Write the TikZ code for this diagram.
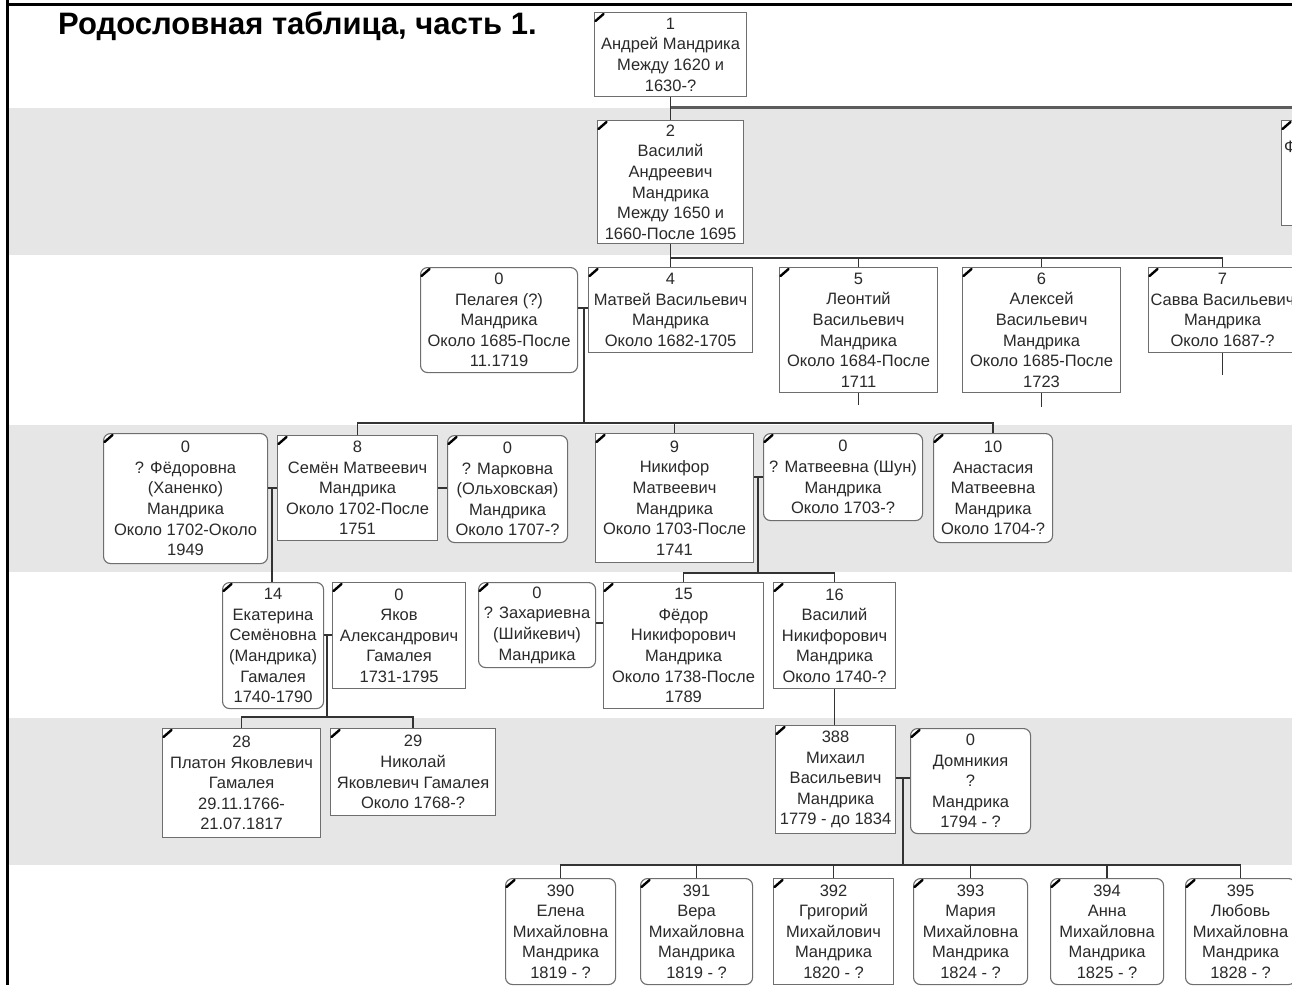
\documentclass[tikz,border=0pt]{standalone}
\usepackage{fontspec}
\setmainfont{Liberation Sans}
\definecolor{band}{HTML}{E6E6E6}
\definecolor{boxgray}{HTML}{6E6E6E}
\definecolor{txt}{HTML}{2A2A2A}
\definecolor{lin}{HTML}{333333}
\begin{document}
\begin{tikzpicture}[x=1pt,y=-1pt,
  sq/.style={draw=boxgray, line width=1.1pt, fill=white, anchor=north west, align=center,
             inner sep=0pt, font=\fontsize{16.5}{20.6}\selectfont, text=txt},
  rd/.style={sq, rounded corners=7pt},
  sz/.style n args={2}{minimum width=#1pt, minimum height=#2pt},
  conn/.style={draw=lin, line width=1.8pt},
  topline/.style={draw=lin!80, line width=3pt},
  pencilst/.style={draw=black, line width=2.4pt, line cap=round}]
\useasboundingbox (0,0) rectangle (1292,985);
\fill[white] (0,0) rectangle (1292,985);
\begin{scope}
\clip (0,0) rectangle (1292,985);
% bands
\fill[band] (8,108) rectangle (1292,255);
\fill[band] (8,425) rectangle (1292,572);
\fill[band] (8,718) rectangle (1292,865);
% frame
\draw[black, line width=3pt] (7,0) -- (7,985);
\draw[black, line width=3pt] (6,4.5) -- (1292,4.5);

% title
\node[anchor=base west, inner sep=0pt, font=\fontsize{31}{36}\selectfont\bfseries, text=black] (title) at (58,34) {Родословная таблица, часть 1.};

% row 1-2
\node[sq, sz={152}{84}] (n1) at (594,12) {1\\Андрей Мандрика\\Между 1620 и\\1630-?};
\node[sq, sz={146}{123}] (n2) at (597,120) {2\\Василий\\Андреевич\\Мандрика\\Между 1650 и\\1660-После 1695};
\node[sq, sz={150}{105}, text width=145pt, align=left, inner xsep=2pt] (nF) at (1281,120) {\mbox{}\\Ф\\\mbox{}\\\mbox{}\\\mbox{}};

% row 3
\node[rd, sz={157}{105}] (n0a) at (420,267) {0\\Пелагея (?)\\Мандрика\\Около 1685-После\\11.1719};
\node[sq, sz={164}{85}] (n4) at (588,267) {4\\Матвей Васильевич\\Мандрика\\Около 1682-1705};
\node[sq, sz={158}{125}] (n5) at (779,267) {5\\Леонтий\\Васильевич\\Мандрика\\Около 1684-После\\1711};
\node[sq, sz={158}{125}] (n6) at (962,267) {6\\Алексей\\Васильевич\\Мандрика\\Около 1685-После\\1723};
\node[sq, sz={148}{85}] (n7) at (1148,267) {7\\Савва Васильевич\\Мандрика\\Около 1687-?};

% row 4
\node[rd, sz={164}{130}] (n0b) at (103,433) {0\\? Фёдоровна\\(Ханенко)\\Мандрика\\Около 1702-Около\\1949};
\node[sq, sz={160}{105}] (n8) at (277,435) {8\\Семён Матвеевич\\Мандрика\\Около 1702-После\\1751};
\node[rd, sz={120}{107}] (n0c) at (447,435) {0\\? Марковна\\(Ольховская)\\Мандрика\\Около 1707-?};
\node[sq, sz={158}{129}] (n9) at (595,433) {9\\Никифор\\Матвеевич\\Мандрика\\Около 1703-После\\1741};
\node[rd, sz={159}{87}] (n0d) at (763,433) {0\\? Матвеевна (Шун)\\Мандрика\\Около 1703-?};
\node[rd, sz={119}{109}] (n10) at (933,433) {10\\Анастасия\\Матвеевна\\Мандрика\\Около 1704-?};

% row 5
\node[rd, sz={101}{126}] (n14) at (222,582) {14\\Екатерина\\Семёновна\\(Мандрика)\\Гамалея\\1740-1790};
\node[sq, sz={133}{106}] (n0e) at (332,582) {0\\Яков\\Александрович\\Гамалея\\1731-1795};
\node[rd, sz={117}{85}] (n0f) at (478,582) {0\\? Захариевна\\(Шийкевич)\\Мандрика};
\node[sq, sz={160}{126}] (n15) at (603,582) {15\\Фёдор\\Никифорович\\Мандрика\\Около 1738-После\\1789};
\node[sq, sz={122}{106}] (n16) at (773,582) {16\\Василий\\Никифорович\\Мандрика\\Около 1740-?};

% row 6
\node[sq, sz={158}{109}] (n28) at (162,728) {28\\Платон Яковлевич\\Гамалея\\29.11.1766-\\21.07.1817};
\node[sq, sz={165}{87}] (n29) at (330,728) {29\\Николай\\Яковлевич Гамалея\\Около 1768-?};
\node[sq, sz={120}{108}] (n388) at (775,725) {388\\Михаил\\Васильевич\\Мандрика\\1779 - до 1834};
\node[rd, sz={120}{105}] (n0g) at (910,728) {0\\Домникия\\?\\Мандрика\\1794 - ?};

% row 7
\node[rd, sz={110}{106}] (n390) at (505,878) {390\\Елена\\Михайловна\\Мандрика\\1819 - ?};
\node[rd, sz={112}{106}] (n391) at (640,878) {391\\Вера\\Михайловна\\Мандрика\\1819 - ?};
\node[sq, sz={120}{106}] (n392) at (773,878) {392\\Григорий\\Михайлович\\Мандрика\\1820 - ?};
\node[rd, sz={114}{106}] (n393) at (913,878) {393\\Мария\\Михайловна\\Мандрика\\1824 - ?};
\node[rd, sz={113}{106}] (n394) at (1050,878) {394\\Анна\\Михайловна\\Мандрика\\1825 - ?};
\node[rd, sz={110}{106}] (n395) at (1185,878) {395\\Любовь\\Михайловна\\Мандрика\\1828 - ?};

% pencil marks
\foreach \n in {n1,n2,nF,n0a,n4,n5,n6,n7,n0b,n8,n0c,n9,n0d,n10,n14,n0e,n0f,n15,n16,n28,n29,n388,n0g,n390,n391,n392,n393,n394,n395}
  \draw[pencilst] ([xshift=1.5pt,yshift=-9pt]\n.north west) -- ++(8pt,7pt);

% junction coordinates
\coordinate (r1) at (1292,107);
\coordinate (b2) at (0,258);
\coordinate (m1) at (584,308);
\coordinate (b3) at (0,423);
\coordinate (m2) at (272,488);
\coordinate (m3) at (442,488);
\coordinate (m4) at (758,477);
\coordinate (b5) at (0,573);
\coordinate (m5) at (599,623);
\coordinate (m6) at (327,635);
\coordinate (b6) at (0,717);
\coordinate (m7) at (903,778);
\coordinate (b7) at (0,865);
\coordinate (s5) at (0,405);
\coordinate (s6) at (0,407);
\coordinate (s7) at (0,375);

% connectors
\draw[topline] (n1.south |- r1) -- (r1);
\draw[conn] (n1.south) -- (n2.north);
\draw[conn] (n2.south) -- (n4.north);
\draw[conn] (n4.north |- b2) -| (n7.north);
\draw[conn] (n5.north |- b2) -- (n5.north);
\draw[conn] (n6.north |- b2) -- (n6.north);
\draw[conn] (n5.south) -- (n5.south |- s5);
\draw[conn] (n6.south) -- (n6.south |- s6);
\draw[conn] (n7.south) -- (n7.south |- s7);

\draw[conn] (n0a.east |- m1) -- (n4.west |- m1);
\draw[conn] (m1) -- (m1 |- b3);
\draw[conn] (n8.north) -- (n8.north |- b3) -| (n10.north);
\draw[conn] (n9.north |- b3) -- (n9.north);

\draw[conn] (n0b.east |- m2) -- (n8.west |- m2);
\draw[conn] (m2) -- (m2 |- n14.north);
\draw[conn] (n8.east |- m3) -- (n0c.west |- m3);

\draw[conn] (n9.east |- m4) -- (n0d.west |- m4);
\draw[conn] (m4) -- (m4 |- b5);
\draw[conn] (n15.north) -- (n15.north |- b5) -| (n16.north);
\draw[conn] (n0f.east |- m5) -- (n15.west |- m5);

\draw[conn] (n14.east |- m6) -- (n0e.west |- m6);
\draw[conn] (m6) -- (m6 |- b6);
\draw[conn] (n28.north) -- (n28.north |- b6) -| (n29.north);

\draw[conn] (n16.south) -- (n16.south |- n388.north);
\draw[conn] (n388.east |- m7) -- (n0g.west |- m7);
\draw[conn] (m7) -- (m7 |- b7);
\draw[conn] (n390.north) -- (n390.north |- b7) -| (n395.north);
\draw[conn] (n391.north |- b7) -- (n391.north);
\draw[conn] (n392.north |- b7) -- (n392.north);
\draw[conn] (n393.north |- b7) -- (n393.north);
\draw[conn] (n394.north |- b7) -- (n394.north);
\end{scope}
\end{tikzpicture}
\end{document}
